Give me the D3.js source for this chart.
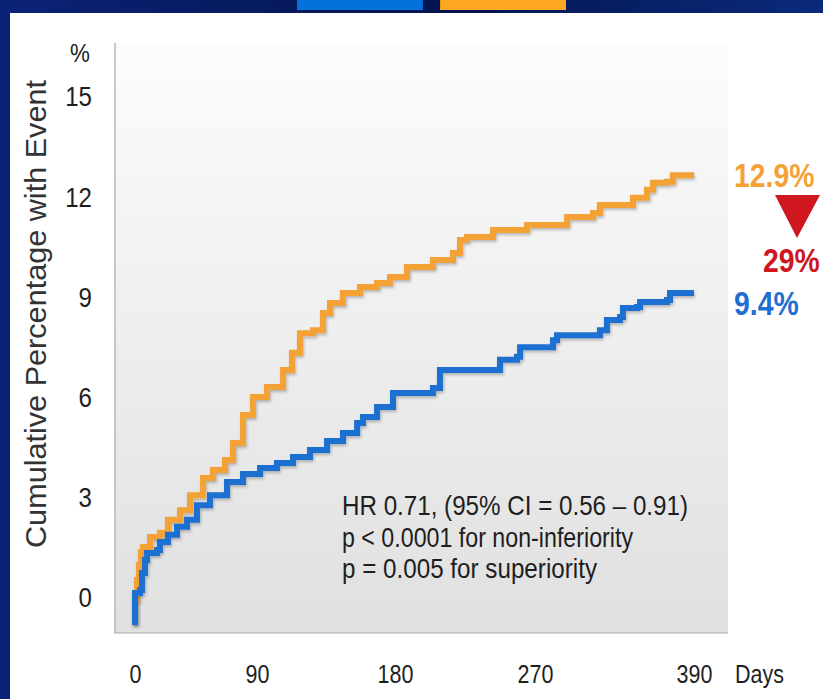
<!DOCTYPE html>
<html><head><meta charset="utf-8">
<script src="https://cdn.jsdelivr.net/npm/d3@7"></script>
<style>html,body{margin:0;padding:0;background:#0a1d6c;overflow:hidden}</style>
</head><body>
<svg id="c" width="823" height="699"></svg>
<script>
// ---- data ----
const xTicks = [0, 90, 180, 270, 390];
const yTicks = [0, 3, 6, 9, 12, 15];
const orangeDays = [0, 0, 1.5, 3, 4.4, 5.9, 11.1, 18.4, 24.3, 33.2, 40.6, 50.2, 57.5, 66.4, 72.3, 79.7, 87, 96.5, 107, 112.8, 118, 126.5, 133, 137.6, 146, 157.2, 168.3, 176.8, 183.2, 187.7, 204.4, 217.3, 221.8, 226.3, 243, 264.9, 288.9, 294.2, 313.8, 319, 344, 354.5, 359, 369.6, 374, 390];
const orangePct  = [-0.81, -0.06, 0.54, 0.99, 1.38, 1.53, 1.83, 1.95, 2.34, 2.63, 3.08, 3.59, 3.83, 4.13, 4.64, 5.48, 6.02, 6.32, 6.83, 7.34, 7.93, 8.02, 8.53, 8.83, 9.13, 9.31, 9.43, 9.61, 9.61, 9.91, 10.12, 10.33, 10.72, 10.81, 11.02, 11.17, 11.17, 11.41, 11.53, 11.77, 11.98, 12.22, 12.43, 12.46, 12.66, 12.66];
const blueDays = [0, 0, 3.7, 5.2, 7.4, 8.9, 16.2, 18.4, 24.3, 31, 38.4, 45.7, 55.3, 67.9, 79.7, 92, 103, 113.5, 124.6, 135.7, 146.1, 155.3, 159.1, 168.3, 178.7, 183.2, 204.4, 208.9, 245.5, 247.5, 258.4, 260.4, 283.6, 286.6, 319, 324.3, 334.2, 336.4, 347, 349.3, 369.6, 371.9, 390];
const bluePct  = [-0.81, 0.15, 0.24, 0.75, 1.14, 1.35, 1.44, 1.68, 1.89, 2.13, 2.34, 2.78, 3.08, 3.47, 3.71, 3.89, 4.04, 4.22, 4.43, 4.70, 4.94, 5.24, 5.42, 5.72, 6.14, 6.14, 6.29, 6.83, 6.83, 7.13, 7.22, 7.51, 7.72, 7.87, 8.02, 8.32, 8.41, 8.68, 8.71, 8.86, 8.92, 9.13, 9.13];
const legendKeys = ["blue", "orange"];
const endLabels = ["12.9%", "9.4%"];
const reductionLabel = "29%";
const statLines = ["HR 0.71, (95% CI = 0.56 \u2013 0.91)", "p < 0.0001 for non-inferiority", "p = 0.005 for superiority"];
const yTitle = "Cumulative Percentage with Event";
const yUnit = "%";
const xUnit = "Days";

// ---- styles ----
const ORANGE = "#f4a236", BLUE = "#1f6fd2", RED = "#d0161f";
const FONT = "'Liberation Sans', Arial, Helvetica, sans-serif";
const SQ = 0.86; // horizontal squeeze of the source slide

const svg = d3.select("#c");
const defs = svg.append("defs");
const ng = defs.append("linearGradient").attr("id", "navy").attr("x1", 0).attr("x2", 1).attr("y1", 0).attr("y2", 0);
ng.append("stop").attr("offset", "0%").attr("stop-color", "#0c2276");
ng.append("stop").attr("offset", "55%").attr("stop-color", "#03154f");
ng.append("stop").attr("offset", "100%").attr("stop-color", "#0b2a7c");
const pg = defs.append("linearGradient").attr("id", "plotbg").attr("x1", 0).attr("x2", 0).attr("y1", 0).attr("y2", 1);
pg.append("stop").attr("offset", "0%").attr("stop-color", "#fcfcfc");
pg.append("stop").attr("offset", "100%").attr("stop-color", "#e0e0e0");
const sh = defs.append("filter").attr("id", "shadow").attr("x", "-10%").attr("y", "-10%").attr("width", "120%").attr("height", "120%");
sh.append("feDropShadow").attr("dx", 1).attr("dy", 2).attr("stdDeviation", 1.5).attr("flood-color", "#000").attr("flood-opacity", 0.25);

svg.append("rect").attr("width", 823).attr("height", 699).attr("fill", "url(#navy)");
svg.append("rect").attr("x", 10).attr("y", 13).attr("width", 813).attr("height", 686).attr("fill", "#ffffff");

// legend swatches (cut at top)
const lg = d3.scaleBand().domain(legendKeys).range([297, 566]).paddingInner(0.12);
svg.selectAll("rect.leg").data(legendKeys).join("rect").attr("class", "leg")
  .attr("x", d => lg(d)).attr("y", 0).attr("width", lg.bandwidth()).attr("height", 10)
  .attr("fill", d => d === "blue" ? "#0572da" : "#ffa622");

// plot area
const PL = 115, PR = 728, PT = 43, PB = 633;
svg.append("rect").attr("x", PL).attr("y", PT).attr("width", PR - PL).attr("height", PB - PT).attr("fill", "url(#plotbg)");
svg.append("path").attr("d", `M${PL},${PT}V${PB}H${PR}`).attr("fill", "none").attr("stroke", "#a9a9a9").attr("stroke-width", 1.2);

const x = d3.scaleLinear().domain(xTicks).range([135, 257, 395, 535, 694]);
const y = d3.scaleLinear().domain([0, 15]).range([598, 97]);

// axes
const ya = svg.append("g").attr("transform", `translate(${PL},0)`)
  .call(d3.axisLeft(y).tickValues(yTicks).tickSize(0).tickPadding(23).tickFormat(d3.format("d")));
ya.select(".domain").remove();
ya.selectAll("text").attr("font-family", FONT).attr("font-size", 28).attr("fill", "#1e1e1e").attr("class", "sq");

const xa = svg.append("g").attr("transform", `translate(0,${PB})`)
  .call(d3.axisBottom(x).tickValues(xTicks).tickSize(0).tickPadding(32).tickFormat(d3.format("d")));
xa.select(".domain").remove();
xa.selectAll("text").attr("font-family", FONT).attr("font-size", 25).attr("fill", "#1e1e1e").attr("class", "sq");

svg.append("text").attr("class", "sq").attr("x", 735).attr("y", 683).attr("font-family", FONT).attr("font-size", 25).attr("fill", "#1e1e1e").text(xUnit);
svg.append("text").attr("class", "sq").attr("x", 80).attr("y", 62).attr("text-anchor", "middle").attr("font-family", FONT).attr("font-size", 26).attr("fill", "#1e1e1e").text(yUnit);
svg.append("text").attr("transform", "translate(46,314) rotate(-90)").attr("text-anchor", "middle")
  .attr("font-family", FONT).attr("font-size", 30).attr("fill", "#333").attr("textLength", 468).attr("lengthAdjust", "spacingAndGlyphs").text(yTitle);

// curves
const line = d3.line().x(d => x(d[0])).y(d => y(d[1])).curve(d3.curveStepAfter);
const orange = orangeDays.map((d, i) => [d, orangePct[i]]);
const blue = blueDays.map((d, i) => [d, bluePct[i]]);
svg.append("path").datum(orange).attr("d", line).attr("fill", "none").attr("stroke", ORANGE).attr("stroke-width", 6).attr("filter", "url(#shadow)");
svg.append("path").datum(blue).attr("d", line).attr("fill", "none").attr("stroke", BLUE).attr("stroke-width", 6).attr("filter", "url(#shadow)");

// stats text
const statW = [346, 291, 255];
svg.selectAll("text.stat").data(statLines).join("text").attr("class", "stat")
  .attr("x", 342).attr("y", (d, i) => 515 + i * 31.5)
  .attr("font-family", FONT).attr("font-size", 28).attr("fill", "#1e1e1e")
  .attr("textLength", (d, i) => statW[i]).attr("lengthAdjust", "spacingAndGlyphs").text(d => d);

// end annotations
const oLast = orangePct[orangePct.length - 1], bLast = bluePct[bluePct.length - 1];
svg.append("text").attr("class", "sq").attr("x", 734).attr("y", y(oLast) + 12).attr("font-family", FONT).attr("font-weight", "bold").attr("font-size", 33).attr("fill", ORANGE).text(endLabels[0]);
svg.append("text").attr("class", "sq").attr("x", 734).attr("y", y(bLast) + 22).attr("font-family", FONT).attr("font-weight", "bold").attr("font-size", 33).attr("fill", BLUE).text(endLabels[1]);
svg.append("path").attr("d", "M775,195L820,195L797,238Z").attr("fill", RED);
svg.append("text").attr("class", "sq").attr("x", 763).attr("y", 272).attr("font-family", FONT).attr("font-weight", "bold").attr("font-size", 33).attr("fill", RED).text(reductionLabel);

// squeeze horizontal texts like the source (scale around each text's anchor x)
svg.selectAll("text.sq").each(function () {
  const sel = d3.select(this);
  const tx = +(sel.attr("x") || 0);
  sel.attr("transform", `translate(${tx},0) scale(${SQ},1) translate(${-tx},0)`);
});
</script>
</body></html>
